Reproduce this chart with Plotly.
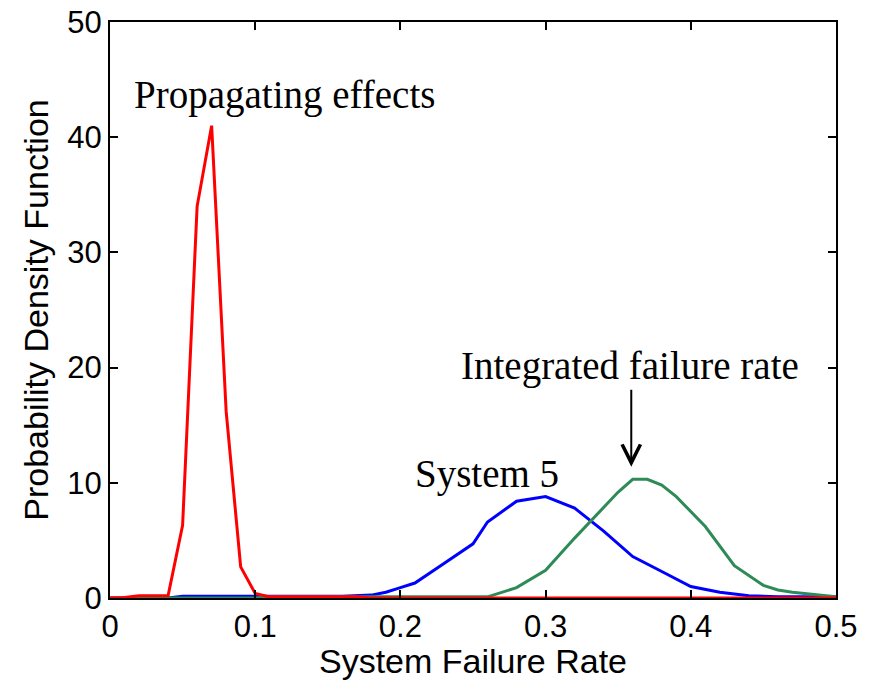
import plotly.graph_objects as go

# Propagating effects (red)
red_x = [0.0, 0.01, 0.02, 0.03, 0.04, 0.05, 0.06, 0.07, 0.08, 0.09, 0.10, 0.11, 0.17, 0.18, 0.50]
red_y = [0.0, 0.05, 0.2, 0.2, 0.2, 6.3, 34.0, 41.0, 16.2, 2.7, 0.4, 0.1, 0.1, 0.0, 0.0]

# System 5 (blue)
blue_x = [0.0, 0.04, 0.05, 0.16, 0.18, 0.19, 0.20, 0.21, 0.23, 0.25, 0.26, 0.28, 0.30, 0.32, 0.34, 0.36, 0.38, 0.40, 0.42, 0.44, 0.46, 0.50]
blue_y = [0.0, 0.0, 0.15, 0.15, 0.25, 0.5, 0.9, 1.3, 3.0, 4.7, 6.6, 8.4, 8.8, 7.8, 5.8, 3.6, 2.3, 1.0, 0.5, 0.2, 0.1, 0.1]

# Integrated failure rate (green)
green_x = [0.0, 0.10, 0.11, 0.26, 0.28, 0.30, 0.32, 0.34, 0.35, 0.36, 0.37, 0.38, 0.39, 0.41, 0.43, 0.45, 0.46, 0.47, 0.49, 0.50]
green_y = [0.0, 0.0, 0.1, 0.1, 0.9, 2.4, 5.2, 7.9, 9.2, 10.3, 10.3, 9.8, 8.8, 6.2, 2.8, 1.1, 0.7, 0.5, 0.2, 0.1]

x_ticks = [0, 0.1, 0.2, 0.3, 0.4, 0.5]
x_tick_labels = ["0", "0.1", "0.2", "0.3", "0.4", "0.5"]
y_ticks = [0, 10, 20, 30, 40, 50]
y_tick_labels = ["0", "10", "20", "30", "40", "50"]

fig = go.Figure()
fig.add_trace(go.Scatter(x=blue_x, y=blue_y, mode="lines", line=dict(color="#0000FF", width=3), name="System 5"))
fig.add_trace(go.Scatter(x=green_x, y=green_y, mode="lines", line=dict(color="#2E8B57", width=3), name="Integrated failure rate"))
fig.add_trace(go.Scatter(x=red_x, y=red_y, mode="lines", line=dict(color="#FF0000", width=3), name="Propagating effects"))

serif = dict(family="Liberation Serif, Times New Roman, serif", size=39, color="black")
fig.add_annotation(x=0.1205, y=43.7, xref="x", yref="y", text="Propagating effects", showarrow=False,
                   font=serif, xanchor="center", yanchor="middle")
fig.add_annotation(x=0.358, y=20.1, xref="x", yref="y", text="Integrated failure rate", showarrow=False,
                   font=serif, xanchor="center", yanchor="middle")
fig.add_annotation(x=0.2593, y=10.8, xref="x", yref="y", text="System 5", showarrow=False,
                   font=serif, xanchor="center", yanchor="middle")
fig.add_annotation(x=0.359, y=11.4, xref="x", yref="y", ax=0.359, ay=18.2, axref="x", ayref="y",
                   text="", showarrow=True, arrowhead=5, arrowsize=1.8, arrowwidth=2, arrowcolor="black")

axis_common = dict(showline=True, linecolor="black", linewidth=2, mirror="ticks", ticks="inside",
                   ticklen=8, tickwidth=1.5, tickcolor="black", showgrid=False, zeroline=False,
                   automargin=False,
                   tickfont=dict(family="Liberation Sans, Arial, sans-serif", size=31, color="black"))

fig.update_xaxes(range=[0, 0.5], tickvals=x_ticks, ticktext=x_tick_labels,
                 title=dict(text="System Failure Rate", standoff=4,
                            font=dict(family="Liberation Sans, Arial, sans-serif", size=34, color="black")),
                 **axis_common)
fig.update_yaxes(range=[0, 50], tickvals=y_ticks, ticktext=y_tick_labels,
                 title=dict(text="Probability Density Function", standoff=8,
                            font=dict(family="Liberation Sans, Arial, sans-serif", size=34, color="black")),
                 **axis_common)

fig.update_layout(width=871, height=680, margin=dict(l=110, r=35, t=22, b=82),
                  plot_bgcolor="white", paper_bgcolor="white", showlegend=False)

fig.write_html("out.html")
